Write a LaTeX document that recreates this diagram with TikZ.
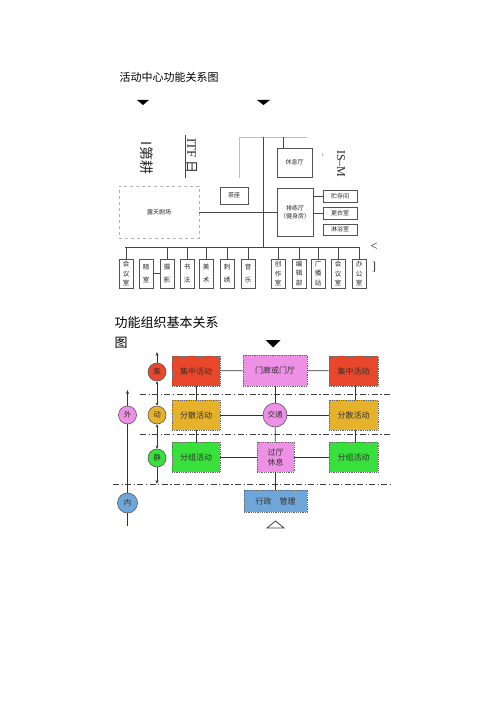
\documentclass[tikz,border=0pt]{standalone}
\usepackage{fontspec}
\setmainfont{Liberation Serif}
\newfontfamily\cjk{Noto Sans CJK SC}
\usetikzlibrary{arrows.meta,shadows}
\definecolor{cred}{HTML}{E8472B}
\definecolor{cpink}{HTML}{EE90E6}
\definecolor{cgold}{HTML}{E6B22C}
\definecolor{cgreen}{HTML}{38E03C}
\definecolor{cblue}{HTML}{6EA6DA}
\begin{document}
\begin{tikzpicture}[x=1pt,y=-1pt,
  ln/.style={draw=gray!55!black, line width=0.5pt},
  sbox/.style={draw=gray!65!black, line width=0.5pt, fill=white, inner sep=0pt, align=center,
    font=\cjk\fontsize{6}{8}\selectfont, text=gray!30!black},
  vbox/.style={sbox, minimum width=14pt, minimum height=29pt, font=\cjk\fontsize{6.5}{9.5}\selectfont,
    drop shadow={shadow xshift=1pt, shadow yshift=-1pt, fill=gray!55, opacity=1}},
  cbox/.style={draw=black!60, densely dotted, line width=0.8pt, inner sep=0pt, align=center,
    minimum width=48pt, minimum height=30pt, font=\cjk\fontsize{8}{10}\selectfont, text=black!80},
  circ/.style={circle, draw=black!65, line width=0.6pt, inner sep=0pt, minimum size=18pt,
    font=\cjk\fontsize{7.5}{9}\selectfont, text=black!80},
  cl/.style={draw=black!80, line width=0.8pt},
  dd/.style={draw=black!75, line width=0.8pt, dash pattern=on 6pt off 2.5pt on 1.2pt off 2.5pt},
]
\useasboundingbox (0,0) rectangle (500,708);

% ---------- first diagram ----------
\node[anchor=west, font=\cjk\fontsize{11}{13}\selectfont] (t1) at (116,77) {活动中心功能关系图};
\fill (137,100) -- (149,100) -- (143,105) -- cycle;
\fill (257,100) -- (270,100) -- (263.5,105) -- cycle;

\node[rotate=-90, font=\cjk\fontsize{14}{14}\selectfont, text=gray!30!black] (geng) at (147,158) {I第耕};
\node[rotate=-90, font=\fontsize{13}{13}\selectfont, text=gray!30!black] (itf) at (192,156) {ITF\,\cjk 日};
\draw[ln, line width=0.7pt] (185,135) -- (185,178);
\node[rotate=-90, font=\fontsize{12}{12}\selectfont, text=gray!30!black] (ism) at (341,164) {IS--M};
\node[rotate=-90, font=\fontsize{6}{6}\selectfont, text=gray!40!black] (tick) at (322,155) {\textasciitilde};

\draw[ln, draw=gray!50] (239,178) -- (239,137) -- (307,137);
\draw[ln] (263,137) -- (263,247);

\node[sbox, minimum width=35pt, minimum height=29pt] (xiuxi) at (294.5,162.5) {休息厅};
\draw[ln] (283,137) -- (283,148);

\node[draw=gray!60, dashed, line width=0.5pt, minimum width=80pt, minimum height=52pt, inner sep=0pt,
  font=\cjk\fontsize{6}{8}\selectfont, text=gray!30!black] (lutian) at (159,212) {露天剧场};
\node[sbox, minimum width=28pt, minimum height=17pt] (chazuo) at (234,195.5) {茶座};
\node[sbox, minimum width=36pt, minimum height=48pt] (pailian) at (295,212) {排练厅\\（健身房）};
\node[sbox, minimum width=34pt, minimum height=12pt] (zhucun) at (340,196) {贮存间};
\node[sbox, minimum width=34pt, minimum height=12pt] (gengyi) at (340,213) {更衣室};
\node[sbox, minimum width=34pt, minimum height=11pt] (linyu) at (340,229.5) {淋浴室};
\draw[ln] (lutian.east) -- (pailian.west);
\draw[ln] (pailian.east |- zhucun) -- (zhucun.west);
\draw[ln] (pailian.east |- gengyi) -- (gengyi.west);

\draw[ln, line width=0.7pt] (125,247) -- (359,247);
\foreach \n/\x/\t in {b1/126/会\\议\\室, b3/167/摄\\[3pt]影, b4/187/书\\[3pt]法, b5/206/美\\[3pt]术,
   b6/227/刺\\[3pt]绣, b7/248/音\\[3pt]乐, b8/278/创\\作\\室, b9/299/编\\辑\\部,
   b10/318/广\\播\\站, b11/338/会\\议\\室, b12/359/办\\公\\室}{
  \node[vbox] (\n) at (\x,273.5) {\t};
  \draw[ln] (\x,247) -- (\n.north);
}
\node[vbox] (b2) at (146,273.5) {暗\\[3pt]室};
\draw[ln] (b2.east) -- (b3.west);
\node[font=\fontsize{13}{13}\selectfont, text=gray!30!black] (lt) at (374,247) {<};
\node[font=\fontsize{12}{12}\selectfont, text=gray!30!black] (rb) at (374,267) {]};

% ---------- second diagram ----------
\node[anchor=west, font=\cjk\fontsize{13}{15}\selectfont] (t2) at (111,323) {功能组织基本关系};
\node[anchor=west, font=\cjk\fontsize{13}{15}\selectfont] (t2b) at (111,343) {图};
\fill (265.5,340) -- (280.5,340) -- (273,347.5) -- cycle;

\draw[dd] (140,394) -- (392,394);
\draw[dd] (140,434) -- (392,434);
\draw[dd] (113,484) -- (392,484);

\node[cbox, fill=cred] (jz1) at (196,371) {集中活动};
\node[cbox, fill=cpink, minimum width=64pt, minimum height=31pt] (ml) at (275,370.5) {门廊或门厅};
\node[cbox, fill=cred, minimum width=49pt] (jz2) at (353.5,371) {集中活动};
\node[cbox, fill=cgold] (fs1) at (196,415) {分散活动};
\node[circ, fill=cpink, minimum size=24pt] (jt) at (275,415) {交通};
\node[cbox, fill=cgold, minimum width=49pt] (fs2) at (353.5,415) {分散活动};
\node[cbox, fill=cgreen] (fz1) at (196,457) {分组活动};
\node[cbox, fill=cpink, minimum width=37pt] (gt) at (275.5,457) {过厅\\休息};
\node[cbox, fill=cgreen, minimum width=49pt] (fz2) at (353.5,457) {分组活动};
\node[cbox, fill=cblue, minimum width=63pt, minimum height=22pt] (xz) at (275.5,501) {行政\quad 管理};
\draw[black!75, line width=0.8pt] (267,528) -- (284,528) -- (275.5,521) -- cycle;

\node[circ, fill=cred] (ji) at (157,372) {集};
\node[circ, fill=cgold] (dong) at (157,415) {动};
\node[circ, fill=cgreen] (jing) at (157,458) {静};
\node[circ, fill=cpink] (wai) at (127.5,415) {外};
\node[circ, fill=cblue, minimum size=20pt] (nei) at (127.5,503) {内};

\draw[cl] (jz1) -- (ml);
\draw[cl] (ml) -- (jz2);
\draw[cl] (fs1) -- (jt);
\draw[cl] (jt) -- (fs2);
\draw[cl] (fz1) -- (gt);
\draw[cl] (gt) -- (fz2);
\draw[cl] (jz1) -- (fs1);
\draw[cl] (fs1) -- (fz1);
\draw[cl] (jz2.south -| 355,0) -- (fs2.north -| 355,0);
\draw[cl] (fs2.south -| 355,0) -- (fz2.north -| 355,0);
\draw[cl] (ml) -- (jt);
\draw[cl] (jt) -- (gt);
\draw[cl] (gt) -- (xz);

\coordinate (ctop) at (157,352);
\coordinate (cbot) at (157,484);
\coordinate (atop) at (127.5,390);
\coordinate (abot) at (127.5,526);
\draw[cl, line width=0.7pt, -{Stealth[length=4pt,width=3pt]}] (ji) -- (ctop);
\draw[cl, line width=0.7pt, {Stealth[length=3pt,width=3pt]}-{Stealth[length=3pt,width=3pt]}] (ji) -- (dong);
\draw[cl, line width=0.7pt, {Stealth[length=3pt,width=3pt]}-{Stealth[length=3pt,width=3pt]}] (dong) -- (jing);
\draw[cl, line width=0.7pt, -{Stealth[length=4pt,width=3pt]}] (jing) -- (cbot);
\draw[cl, line width=0.7pt, -{Stealth[length=4pt,width=3pt]}] (wai) -- (atop);
\draw[cl, line width=0.7pt] (wai) -- (nei);
\draw[cl, line width=0.7pt] (nei) -- (abot);
\end{tikzpicture}
\end{document}
